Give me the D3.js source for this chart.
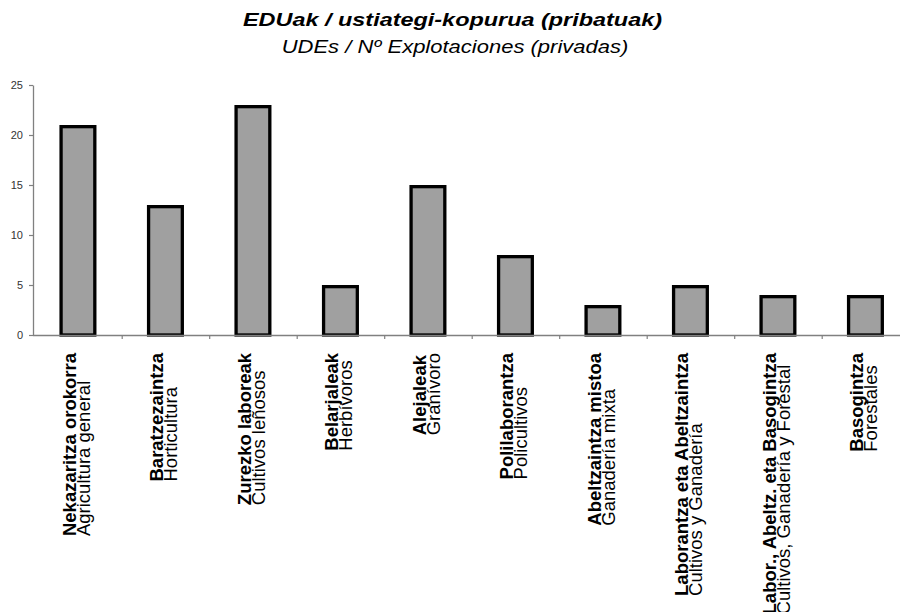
<!DOCTYPE html>
<html><head><meta charset="utf-8">
<script src="https://cdn.jsdelivr.net/npm/d3@7"></script>
<style>body{margin:0;background:#fff}svg{display:block}</style>
</head><body><svg id="c" width="900" height="612"></svg>
<script>
const categoriesEu = ["Nekazaritza orokorra","Baratzezaintza","Zurezko laboreak","Belarjaleak","Alejaleak","Polilaborantza","Abeltzaintza mistoa","Laborantza eta Abeltzaintza","Labor., Abeltz. eta Basogintza","Basogintza"];
const categoriesEs = ["Agricultura general","Horticultura","Cultivos leñosos","Herbívoros","Granívoro","Policultivos","Ganadería mixta","Cultivos y Ganadería","Cultivos, Ganadería y Forestal","Forestales"];
const values = [21,13,23,5,15,8,3,5,4,4];
const yTicks = [0,5,10,15,20,25];
const title = "EDUak / ustiategi-kopurua (pribatuak)";
const subtitle = "UDEs / Nº Explotaciones (privadas)";

const FONT = "'Liberation Sans', Arial, sans-serif";
const svg = d3.select("#c");
svg.append("rect").attr("width",900).attr("height",612).attr("fill","#fff");

const x0 = 34.2, x1 = 909.2;
const x = d3.scaleBand().domain(d3.range(values.length)).range([x0, x1])
  .paddingInner(0.611).paddingOuter(0.3055);
const xb = d3.scaleLinear().domain([0, values.length]).range([x0, x1]);
const y = d3.scaleLinear().domain([0, 25]).range([335, 85]);

// title
svg.append("text").attr("x",243).attr("y",25.5)
  .attr("font-family",FONT).attr("font-size",18.5).attr("font-weight","bold").attr("font-style","italic")
  .attr("textLength",419).attr("lengthAdjust","spacingAndGlyphs").text(title);
svg.append("text").attr("x",281.7).attr("y",53)
  .attr("font-family",FONT).attr("font-size",18).attr("font-style","italic")
  .attr("textLength",346.6).attr("lengthAdjust","spacingAndGlyphs").text(subtitle);

// bars
const sw = 3.3;
svg.append("g").selectAll("rect").data(values).join("rect")
  .attr("x",(d,i)=>x(i)+sw/2-1.5)
  .attr("width",x.bandwidth()-sw+3)
  .attr("y",d=>y(d)+sw/2)
  .attr("height",d=>y(0)-y(d)-sw/2)
  .attr("fill","#a0a0a0").attr("stroke","#000").attr("stroke-width",sw);

// y axis
const ya = svg.append("g").attr("transform","translate(33,0)")
  .call(d3.axisLeft(y).tickValues(yTicks).tickSize(4).tickSizeOuter(0).tickPadding(6));
ya.select(".domain").attr("stroke","#808080").attr("stroke-width",1.3);
ya.selectAll(".tick line").attr("stroke","#808080").attr("stroke-width",1.2);
ya.selectAll(".tick text").attr("font-family",FONT).attr("font-size",11).attr("fill","#333");

// x axis
const xa = svg.append("g").attr("transform","translate(0,335)")
  .call(d3.axisBottom(xb).tickValues(d3.range(1, values.length)).tickSize(4).tickSizeOuter(0).tickFormat(""));
xa.select(".domain").attr("stroke","#808080").attr("stroke-width",1.5)
  .attr("d",`M33,0.5H${x1}`);
xa.selectAll(".tick line").attr("stroke","#808080").attr("stroke-width",1.2);

// category labels
const lab = svg.append("g").selectAll("g").data(d3.range(values.length)).join("g")
  .attr("transform",i=>`translate(${x(i)+x.bandwidth()/2},353) rotate(-90)`);
lab.each(function(i){
  const g = d3.select(this);
  const t1 = g.append("text").attr("y",-2).attr("font-family",FONT).attr("font-size",18.5).attr("font-weight","bold").text(categoriesEu[i]);
  const t2 = g.append("text").attr("y",12).attr("font-family",FONT).attr("font-size",18.5).text(categoriesEs[i]);
  const L = Math.max(t1.node().getComputedTextLength(), t2.node().getComputedTextLength());
  t1.attr("x",-L); t2.attr("x",-L);
});
</script></body></html>
